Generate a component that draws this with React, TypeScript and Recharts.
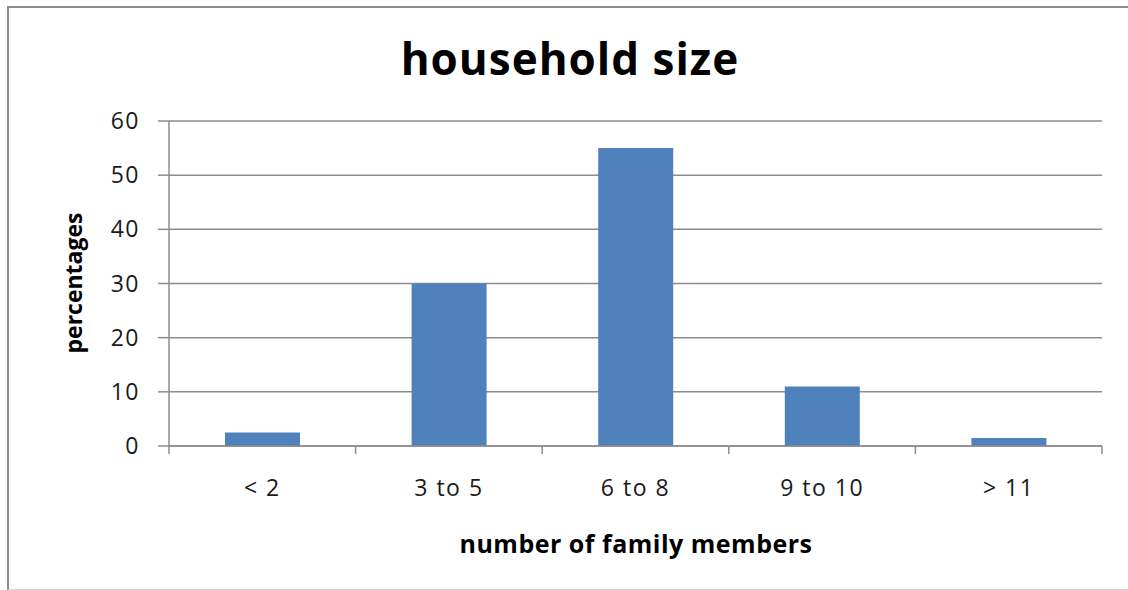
import { BarChart, Bar, XAxis, YAxis, CartesianGrid } from 'recharts'

// household size survey
const categories = ['< 2', '3 to 5', '6 to 8', '9 to 10', '> 11']
const percentages = [2.5, 30, 55, 11, 1.5]
const yTicks = [0, 10, 20, 30, 40, 50, 60]

const data = categories.map((c, i) => ({ group: c, pct: percentages[i] }))

const FONT = '"Open Sans", "DejaVu Sans", sans-serif'
const GRID = '#8c8c8c'
const tickStyle = { fill: '#1a1a1a', fontSize: 23, fontFamily: FONT, letterSpacing: 1.5 }

// Excel-style category tick: label in the middle, tick marks on the band edges
const CategoryTick = (props: any) => {
  const { x, y, payload, index, visibleTicksCount } = props
  const half = payload.offset || 0
  const last = index === (visibleTicksCount ?? categories.length) - 1
  return (
    <g>
      <line x1={x - half} x2={x - half} y1={y - 34} y2={y - 26} stroke={GRID} strokeWidth={1.5} />
      {last && <line x1={x + half} x2={x + half} y1={y - 34} y2={y - 26} stroke={GRID} strokeWidth={1.5} />}
      <text x={x} y={y} dy="0.71em" textAnchor="middle" {...tickStyle}>{payload.value}</text>
    </g>
  )
}

export default function App() {
  return (
    <div style={{ position: 'absolute', left: 0, top: 0, width: 1128, height: 590, overflow: 'hidden', background: '#fff' }}>
      {/* chart frame: only top/left/bottom edges are visible */}
      <div style={{
        position: 'absolute', left: 7, top: 6, width: 1140, height: 584, boxSizing: 'border-box',
        borderTop: '2px solid #8c8c8c', borderLeft: '2px solid #8c8c8c', borderBottom: '1px solid #d4d4d4',
      }} />
      <div style={{
        position: 'absolute', left: 0, top: 30, width: 1140, textAlign: 'center',
        fontFamily: FONT, fontWeight: 700, fontSize: 44, letterSpacing: 1, lineHeight: '56px', color: '#000',
      }}>
        household size
      </div>
      <div style={{ position: 'absolute', left: 0, top: 0 }}>
        <BarChart width={1128} height={590} data={data}
          margin={{ top: 121, right: 26, bottom: 104, left: 0 }}>
          <CartesianGrid vertical={false} stroke={GRID} strokeWidth={1.5} />
          <XAxis dataKey="group" height={40} tickLine={false} tickSize={0} tickMargin={34}
            axisLine={{ stroke: GRID, strokeWidth: 1.5 }} tick={<CategoryTick />} interval={0}
            label={{
              content: () => (
                <text x={636} y={553} textAnchor="middle" fontFamily={FONT} fontWeight={700}
                  fontSize={25} letterSpacing={0.5} fill="#000">
                  number of family members
                </text>
              ),
            }}
          />
          <YAxis width={169} domain={[0, 60]} ticks={yTicks} interval={0}
            tickSize={11} tickMargin={18} tick={tickStyle}
            axisLine={{ stroke: GRID, strokeWidth: 1.5 }} tickLine={{ stroke: GRID, strokeWidth: 1.5 }}
            label={{
              content: () => (
                <text x={73} y={283} transform="rotate(-90 73 283)" textAnchor="middle"
                  dominantBaseline="central" fontFamily={FONT} fontWeight={700} fontSize={23} fill="#000">
                  percentages
                </text>
              ),
            }}
          />
          <Bar dataKey="pct" fill="#4f81bd" barSize={75} isAnimationActive={false} />
        </BarChart>
      </div>
    </div>
  )
}
